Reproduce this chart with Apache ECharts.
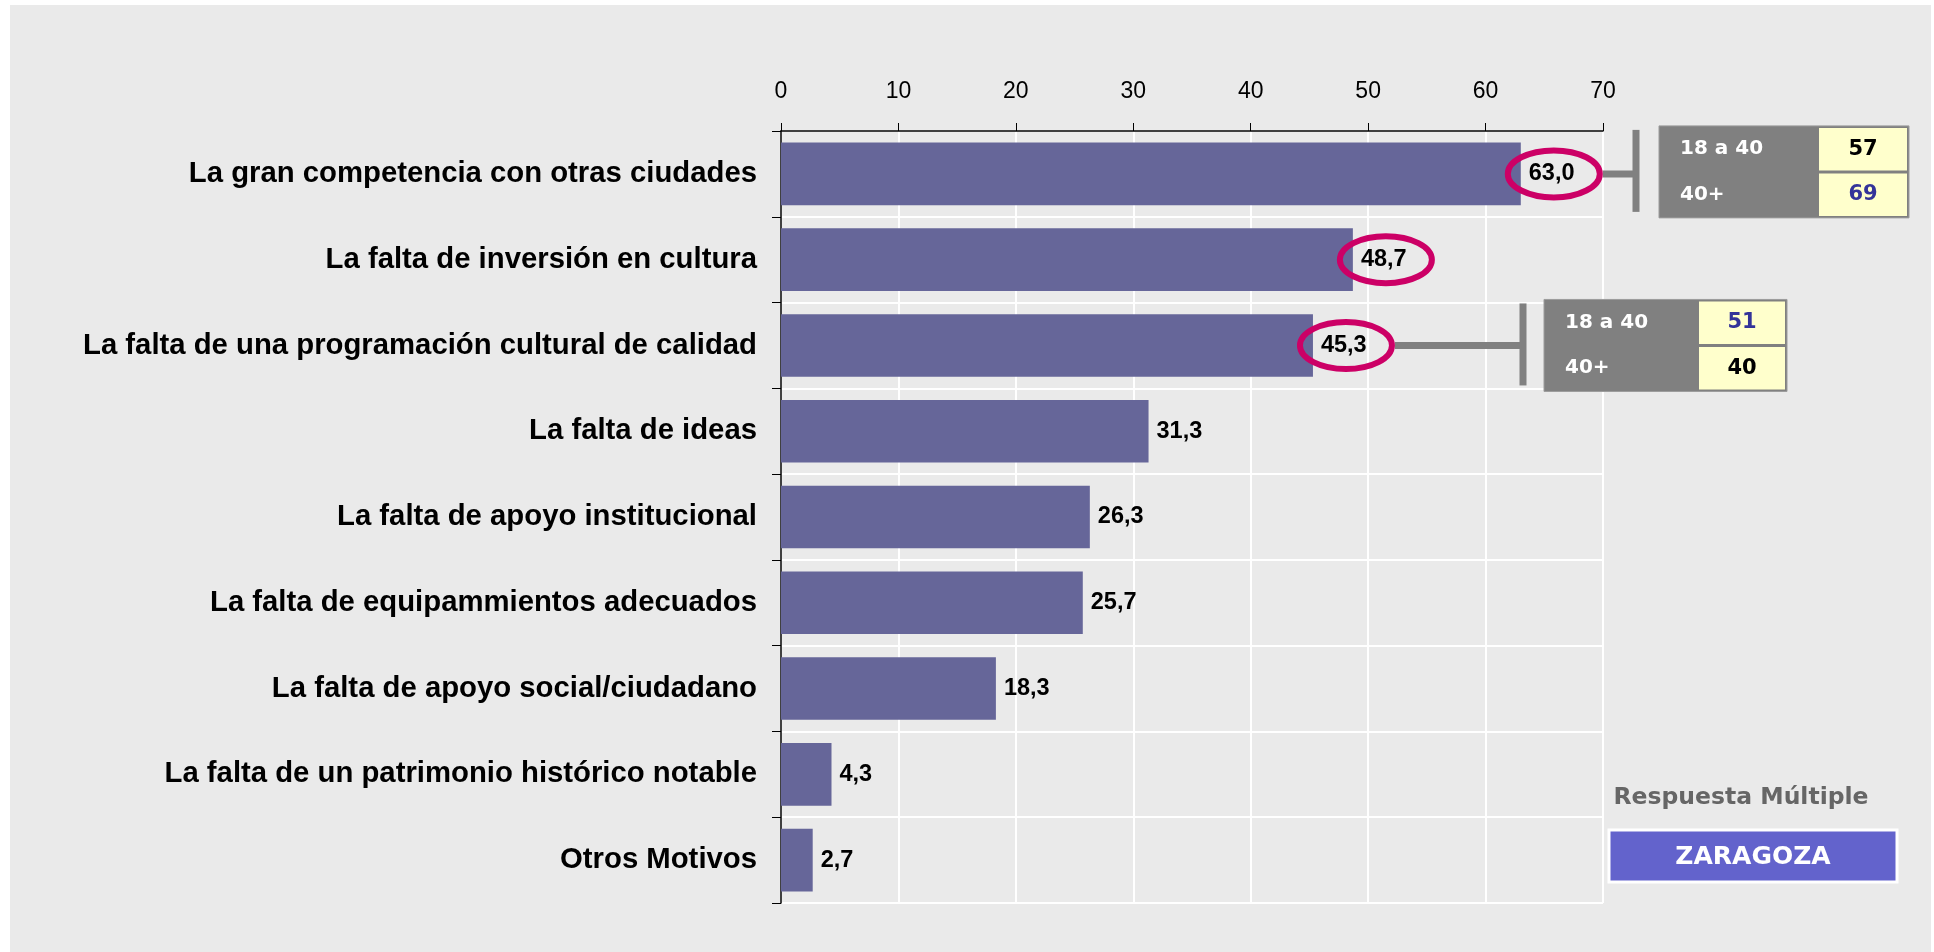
<!DOCTYPE html>
<html>
<head>
<meta charset="utf-8">
<script src="https://cdn.jsdelivr.net/npm/echarts@6/dist/echarts.min.js"></script>
<style>
  html, body { margin: 0; padding: 0; background: #ffffff; }
  #panel { position: absolute; left: 10px; top: 5px; width: 1921px; height: 947px; background: #eaeaea; }
  #chart { position: absolute; left: 0; top: 0; width: 1934px; height: 952px; }
</style>
</head>
<body>
<div id="panel"></div>
<div id="chart"></div>
<script>
// Motivos (porcentaje de respuestas, respuesta múltiple)
const categories = [
  'La gran competencia con otras ciudades',
  'La falta de inversión en cultura',
  'La falta de una programación cultural de calidad',
  'La falta de ideas',
  'La falta de apoyo institucional',
  'La falta de equipammientos adecuados',
  'La falta de apoyo social/ciudadano',
  'La falta de un patrimonio histórico notable',
  'Otros Motivos'
];
const values = [63.0, 48.7, 45.3, 31.3, 26.3, 25.7, 18.3, 4.3, 2.7];

// Escala del eje de valores
const axisMin = 0;
const axisMax = 70;
const axisStep = 10;

// Motivos destacados con un círculo
const highlighted = [0, 1, 2];

// Desglose por edad de algunos motivos
const ageGroups = ['18 a 40', '40+'];
const breakdownRows = [0, 2];
const breakdownValues = [[57, 69], [51, 40]];

const footnote = 'Respuesta Múltiple';
const cityName = 'ZARAGOZA';

const fmt = v => v.toFixed(1).replace('.', ',');

const chart = echarts.init(document.getElementById('chart'), null, { renderer: 'canvas' });

chart.setOption({
  backgroundColor: 'transparent',
  animation: false,
  grid: { left: 781, right: 331, top: 131, bottom: 49, containLabel: false },
  xAxis: {
    type: 'value',
    position: 'top',
    min: axisMin,
    max: axisMax,
    interval: axisStep,
    axisLine: { show: true, lineStyle: { color: '#000', width: 1.5 } },
    axisTick: { show: true, length: 8, lineStyle: { color: '#000', width: 1 } },
    axisLabel: {
      margin: 28,
      fontFamily: "'Liberation Sans Narrow', 'Liberation Sans', Arial, sans-serif",
      fontSize: 23,
      color: '#000'
    },
    splitLine: { show: true, lineStyle: { color: '#ffffff', width: 2 } }
  },
  yAxis: {
    type: 'category',
    inverse: true,
    data: categories,
    axisLine: { show: true, lineStyle: { color: '#000', width: 1.5 } },
    axisTick: { show: true, length: 9, lineStyle: { color: '#000', width: 1 } },
    axisLabel: {
      margin: 24,
      fontFamily: "'Liberation Sans', Arial, sans-serif",
      fontWeight: 'bold',
      fontSize: 29.3,
      color: '#000'
    },
    splitLine: { show: true, lineStyle: { color: '#ffffff', width: 2 } }
  },
  series: [{
    type: 'bar',
    data: values,
    barCategoryGap: '27%',
    itemStyle: { color: '#666699' },
    label: {
      show: true,
      position: 'right',
      distance: 8,
      formatter: p => fmt(p.value),
      fontFamily: "'Liberation Sans', Arial, sans-serif",
      fontWeight: 'bold',
      fontSize: 23.5,
      color: '#000'
    },
    z: 2
  }]
});

// Anotaciones: círculos, conectores y tablas por edad
const px = (v, i) => chart.convertToPixel({ xAxisIndex: 0, yAxisIndex: 0 }, [v, i]);
const gray = '#808080';
const verdana = "'DejaVu Sans', Verdana, sans-serif";
const elements = [];

const ellipseRx = 46, ellipseRy = 23.5, ellipseOffset = 33;
highlighted.forEach(i => {
  const [x, y] = px(values[i], i);
  elements.push({
    type: 'ellipse', z: 100,
    shape: { cx: x + ellipseOffset, cy: y, rx: ellipseRx, ry: ellipseRy },
    style: { fill: 'none', stroke: '#cc0066', lineWidth: 6 }
  });
});

// Posición horizontal de cada tabla y ajuste vertical respecto a la barra
const tableLayout = [
  { bracketX: 1636, left: 1659, width: 250, cellLeft: 1819, dy: -2 },
  { bracketX: 1523, left: 1544, width: 243, cellLeft: 1699, dy: 0 }
];

breakdownRows.forEach((row, k) => {
  const [x, y] = px(values[row], row);
  const L = tableLayout[k];
  const startX = x + ellipseOffset + ellipseRx + 3;
  const cy0 = y + L.dy;
  // conector horizontal
  elements.push({
    type: 'rect', z: 90,
    shape: { x: startX, y: y - 3.5, width: L.bracketX - startX, height: 7 },
    style: { fill: gray }
  });
  // corchete vertical
  elements.push({
    type: 'rect', z: 90,
    shape: { x: L.bracketX - 3.5, y: cy0 - 42, width: 7, height: 82 },
    style: { fill: gray }
  });
  // caja de la tabla
  const top = cy0 - 46, h = 92;
  elements.push({
    type: 'rect', z: 90,
    shape: { x: L.left, y: top, width: L.width, height: h },
    style: { fill: gray, stroke: '#9c9c9c', lineWidth: 1 }
  });
  const vals = breakdownValues[k];
  const maxV = Math.max(...vals);
  const cellW = L.left + L.width - 2 - L.cellLeft;
  const rowH = (h - 7) / 2;
  ageGroups.forEach((g, r) => {
    const cy = top + 2 + r * (rowH + 3);
    elements.push({
      type: 'rect', z: 91,
      shape: { x: L.cellLeft, y: cy, width: cellW, height: rowH },
      style: { fill: '#ffffcc' }
    });
    elements.push({
      type: 'text', z: 92,
      x: L.left + 21, y: cy + rowH / 2,
      style: {
        text: g, fill: '#ffffff', font: 'bold 20px ' + verdana,
        textAlign: 'left', textVerticalAlign: 'middle'
      }
    });
    elements.push({
      type: 'text', z: 92,
      x: L.cellLeft + cellW / 2, y: cy + rowH / 2,
      style: {
        text: String(vals[r]), fill: vals[r] === maxV ? '#333399' : '#000000',
        font: 'bold 21px ' + verdana,
        textAlign: 'center', textVerticalAlign: 'middle'
      }
    });
  });
});

// Nota y caja de la ciudad
elements.push({
  type: 'text', z: 92,
  x: 1741, y: 798,
  style: {
    text: footnote, fill: '#666666', font: 'bold 23.5px ' + verdana,
    textAlign: 'center', textVerticalAlign: 'middle'
  }
});
elements.push({
  type: 'rect', z: 90,
  shape: { x: 1609, y: 830, width: 288, height: 52 },
  style: { fill: '#6363cc', stroke: '#ffffff', lineWidth: 3 }
});
elements.push({
  type: 'text', z: 92,
  x: 1753, y: 857,
  style: {
    text: cityName, fill: '#ffffff', font: 'bold 25px ' + verdana,
    textAlign: 'center', textVerticalAlign: 'middle'
  }
});

chart.setOption({ graphic: { elements } });
</script>
</body>
</html>
